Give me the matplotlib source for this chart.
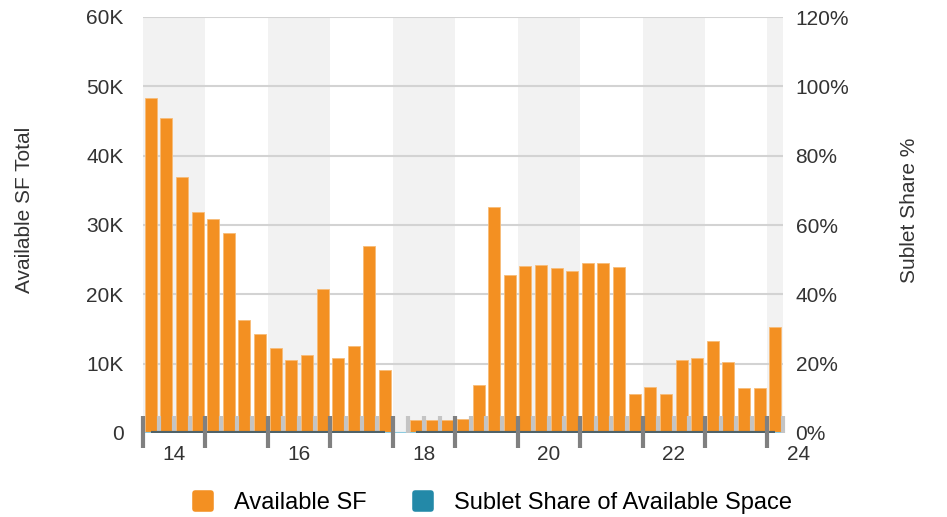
import matplotlib
matplotlib.use("Agg")
import matplotlib.pyplot as plt
import numpy as np
from matplotlib.lines import Line2D
from matplotlib.markers import MarkerStyle
from matplotlib.ticker import FuncFormatter, MultipleLocator

plt.rcParams["font.family"] = ["Liberation Sans", "DejaVu Sans"]

# 2014 Q1 .. 2024 Q1
years = list(range(2014, 2025))
quarters = [f"{y} Q{q}" for y in years for q in range(1, 5)][:41]

available_sf = [
    48300, 45500, 36900, 31900,
    30800, 28800, 16300, 14300,
    12300, 10500, 11300, 20800,
    10800, 12600, 26900, 9100,
    np.nan, 1900, 1900, 1900,
    2000, 6900, 32600, 22800,
    24100, 24300, 23800, 23400,
    24500, 24500, 23900, 5600,
    6700, 5600, 10500, 10800,
    13200, 10300, 6500, 6500,
    15300,
]
sublet_share = [0.0] * 16 + [np.nan] + [0.0] * 24

orange = "#F39022"
teal = "#2389A8"
text_col = "#333333"

fig = plt.figure(figsize=(9.47, 5.17), dpi=100)
ax = fig.add_axes([143 / 947, 1 - 433 / 517, 640 / 947, 416 / 517])
ax2 = ax.twinx()

n = len(quarters)
x = np.arange(n) + 0.5

# alternating year bands
for i, y in enumerate(years):
    if i % 2 == 0:
        ax.axvspan(i * 4, min(i * 4 + 4, n), color="#F2F2F2", zorder=0, lw=0)

ax.bar(x, available_sf, width=0.77, color=orange, edgecolor="#F7BC78",
       linewidth=0.6, zorder=2)

ax.set_xlim(0, n)
ax.set_ylim(0, 60000)
ax.yaxis.set_major_locator(MultipleLocator(10000))
ax.yaxis.set_major_formatter(FuncFormatter(lambda v, p: "0" if v == 0 else f"{int(v / 1000)}K"))
ax.grid(axis="y", color="#D3D3D3", linewidth=1.5, zorder=1)
ax.set_axisbelow(True)
ax.set_xticks([])
ax.tick_params(axis="y", length=0, pad=14, labelsize=15, labelcolor=text_col)
for s in ["top", "left", "right", "bottom"]:
    ax.spines[s].set_visible(False)

# light blue baseline
ax.axhline(0, color="#8CCBE0", linewidth=1.5, zorder=3)

# quarter tick marks (sit under the sublet line)
trans = ax.get_xaxis_transform()
above = 17 / 416
minor_pos = [i for i in range(1, n + 1) if i % 4 != 0 or i == n]
ax.vlines(minor_pos, 0, above, transform=trans, color="#C4C4C4",
          linewidth=3, zorder=5, clip_on=False)

# sublet share series on the right axis
ax2.plot(x, sublet_share, color="#4F6268", linewidth=3, zorder=4,
         solid_capstyle="butt")
ax2.set_ylim(0, 1.2)
ax2.yaxis.set_major_locator(MultipleLocator(0.2))
ax2.yaxis.set_major_formatter(FuncFormatter(lambda v, p: f"{v * 100:.0f}%"))
ax2.tick_params(axis="y", length=0, pad=9, labelsize=15, labelcolor=text_col)
for s in ["top", "left", "right", "bottom"]:
    ax2.spines[s].set_visible(False)
ax2.set_xlim(0, n)

# year tick marks on top of everything
major_pos = [i for i in range(0, n, 4)]
ax2.vlines(major_pos, -15 / 416, above, transform=ax2.get_xaxis_transform(),
           color="#808080", linewidth=3, zorder=6, clip_on=False)

# year labels every other year, centered on the year
for i, y in enumerate(years):
    if i % 2 == 0:
        ax.text(i * 4 + 2, -22 / 416, str(y)[2:], transform=trans, ha="center",
                va="center", fontsize=15, color=text_col, clip_on=False)

fig.text(25 / 947, 1 - 210 / 517, "Available SF Total", rotation=90,
         ha="center", va="center", fontsize=15, color=text_col)
fig.text(909 / 947, 1 - 210 / 517, "Sublet Share %", rotation=90,
         ha="center", va="center", fontsize=15, color=text_col)

ms = MarkerStyle("s", joinstyle="round")
handles = [
    Line2D([], [], linestyle="none", marker=ms, markersize=12,
           markerfacecolor=orange, markeredgecolor=orange, markeredgewidth=4),
    Line2D([], [], linestyle="none", marker=ms, markersize=12,
           markerfacecolor=teal, markeredgecolor=teal, markeredgewidth=4),
]
fig.legend(handles, ["Available SF", "Sublet Share of Available Space"],
           loc="center", bbox_to_anchor=(492 / 947, 1 - 503 / 517), ncol=2,
           frameon=False, fontsize=17, handlelength=0.95, handletextpad=0.85,
           columnspacing=1.9, borderaxespad=0, borderpad=0)

fig.savefig("out.png", dpi=100)
